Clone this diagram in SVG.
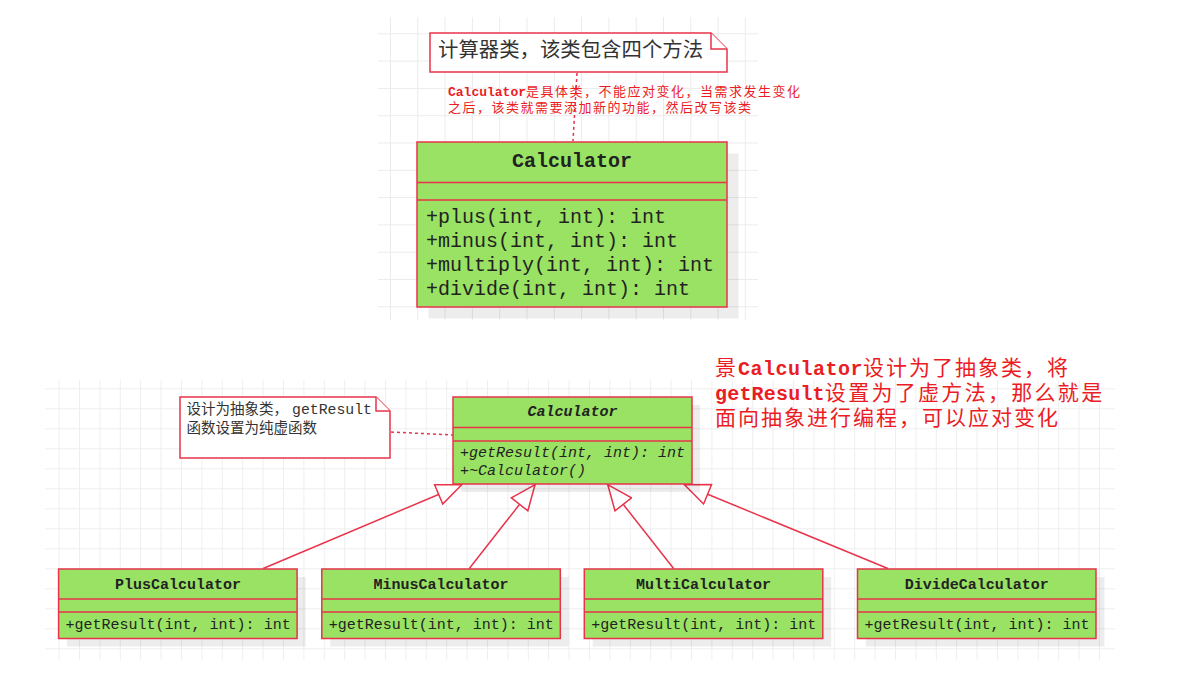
<svg xmlns="http://www.w3.org/2000/svg" width="1191" height="675" viewBox="0 0 1191 675">
<style>
.box{fill:#99e263;stroke:#e8334a;stroke-width:1.5}
.shadow{fill:#000;fill-opacity:0.07}
.div{stroke:#e8334a;stroke-width:1.5}
.note{fill:#fff;stroke:#e8334a;stroke-width:1.5}
.mono{font-family:"Liberation Mono",monospace;fill:#222}
.cjk{font-family:"Noto Sans CJK SC",sans-serif}
.conn{stroke:#e8334a;stroke-width:1.5;fill:none}
.dash{stroke:#e8334a;stroke-width:1.5;fill:none;stroke-dasharray:3,3}
.red{fill:#eb1c24}
</style>
<defs>
<pattern id="g1" x="390" y="33.3" width="27.3" height="27.3" patternUnits="userSpaceOnUse">
<path d="M0 0.5H27.3M0.5 0V27.3" stroke="#ebebeb" stroke-width="1" fill="none"/>
</pattern>
<pattern id="g2" x="58.6" y="388.3" width="20.4" height="20" patternUnits="userSpaceOnUse">
<path d="M0 0.5H20.4M0.5 0V20" stroke="#eeeeee" stroke-width="1" fill="none"/>
</pattern>
<marker id="tri" viewBox="0 0 27 23" refX="26" refY="11.5" markerWidth="27" markerHeight="23" markerUnits="userSpaceOnUse" orient="auto">
<path d="M1,1 L26,11.5 L1,22 Z" fill="#fff" stroke="#e8334a" stroke-width="1.5"/>
</marker>
</defs>
<rect width="1191" height="675" fill="#fff"/>
<rect x="378" y="17" width="380" height="303" fill="url(#g1)"/>
<rect x="45" y="380" width="1070" height="280" fill="url(#g2)"/>

<g id="connectors">
<line class="dash" x1="577" y1="73" x2="573" y2="141"/>
<line class="dash" x1="391" y1="432" x2="453" y2="435"/>
<line class="conn" x1="263.2" y1="568.5" x2="461.7" y2="484.7" marker-end="url(#tri)"/>
<line class="conn" x1="469.3" y1="568.5" x2="535" y2="484.7" marker-end="url(#tri)"/>
<line class="conn" x1="673.6" y1="568.5" x2="607.8" y2="484.7" marker-end="url(#tri)"/>
<line class="conn" x1="887.9" y1="568.5" x2="684.5" y2="484.7" marker-end="url(#tri)"/>
</g>

<g id="note-top">
<path class="note" d="M430,33 H711 L727,49 V72 H430 Z"/>
<path class="note" d="M711,33 V49 H727"/>
<text x="438" y="57" class="cjk" font-size="20.4" fill="#333">计算器类，该类包含四个方法</text>
</g>

<g id="note-top-red">
<text x="448" y="96" class="red"><tspan font-family="Liberation Mono, monospace" font-weight="bold" font-size="13">Calculator</tspan><tspan class="cjk" font-size="13" letter-spacing="1.5">是具体类，不能应对变化，当需求发生变化</tspan></text>
<text x="448" y="112" class="red cjk" font-size="13" letter-spacing="1.5">之后，该类就需要添加新的功能，然后改写该类</text>
</g>

<g id="class-calculator-concrete">
<rect class="shadow" x="428.5" y="153.5" width="310" height="165"/>
<rect class="box" x="417" y="142" width="310" height="165"/>
<line class="div" x1="417" y1="182.5" x2="727" y2="182.5"/>
<line class="div" x1="417" y1="200" x2="727" y2="200"/>
<text x="572" y="167" class="mono" font-size="20" font-weight="bold" text-anchor="middle" fill="#111">Calculator</text>
<text x="426" y="223" class="mono" font-size="20">+plus(int, int): int</text>
<text x="426" y="247" class="mono" font-size="20">+minus(int, int): int</text>
<text x="426" y="271" class="mono" font-size="20">+multiply(int, int): int</text>
<text x="426" y="295" class="mono" font-size="20">+divide(int, int): int</text>
</g>

<g id="note-abstract">
<path class="note" d="M180,397 H376 L390,411 V458 H180 Z"/>
<path class="note" d="M376,397 V411 H390"/>
<text x="186.5" y="414" font-size="14.5" fill="#333"><tspan class="cjk">设计为抽象类，</tspan><tspan font-family="Liberation Mono, monospace" font-size="14.8" dx="4">getResult</tspan></text>
<text x="186.5" y="433" class="cjk" font-size="14.5" fill="#333">函数设置为纯虚函数</text>
</g>

<g id="big-red-text" class="red">
<text x="715" y="374.5"><tspan class="cjk" font-size="21" letter-spacing="2">景</tspan><tspan font-family="Liberation Mono, monospace" font-weight="bold" font-size="20" letter-spacing="0.5">Calculator</tspan><tspan class="cjk" font-size="21" letter-spacing="2">设计为了抽象类，将</tspan></text>
<text x="715" y="399.5"><tspan font-family="Liberation Mono, monospace" font-weight="bold" font-size="20" letter-spacing="0.2">getResult</tspan><tspan class="cjk" font-size="21" letter-spacing="2.3">设置为了虚方法，那么就是</tspan></text>
<text x="715" y="425" class="cjk" font-size="21" letter-spacing="2">面向抽象进行编程，可以应对变化</text>
</g>

<g id="class-calculator-abstract">
<rect class="shadow" x="461" y="405" width="239" height="87"/>
<rect class="box" x="453" y="397" width="239" height="87"/>
<line class="div" x1="453" y1="427.5" x2="692" y2="427.5"/>
<line class="div" x1="453" y1="441" x2="692" y2="441"/>
<text x="572.5" y="416" class="mono" font-size="15" font-weight="bold" font-style="italic" text-anchor="middle" fill="#111">Calculator</text>
<text x="460" y="457" class="mono" font-size="15" font-style="italic">+getResult(int, int): int</text>
<text x="460" y="474.5" class="mono" font-size="15" font-style="italic">+~Calculator()</text>
</g>

<g id="class-plus">
<rect class="shadow" x="67" y="577" width="238.5" height="69.5"/>
<rect class="box" x="58.6" y="569" width="238.5" height="69.5"/>
<line class="div" x1="58.6" y1="599" x2="297.1" y2="599"/>
<line class="div" x1="58.6" y1="612" x2="297.1" y2="612"/>
<text x="177.9" y="588.5" class="mono" font-size="15" font-weight="bold" text-anchor="middle" fill="#111">PlusCalculator</text>
<text x="65.6" y="629" class="mono" font-size="15">+getResult(int, int): int</text>
</g>

<g id="class-minus">
<rect class="shadow" x="330.2" y="577" width="238.5" height="69.5"/>
<rect class="box" x="321.8" y="569" width="238.5" height="69.5"/>
<line class="div" x1="321.8" y1="599" x2="560.3" y2="599"/>
<line class="div" x1="321.8" y1="612" x2="560.3" y2="612"/>
<text x="441" y="588.5" class="mono" font-size="15" font-weight="bold" text-anchor="middle" fill="#111">MinusCalculator</text>
<text x="328.8" y="629" class="mono" font-size="15">+getResult(int, int): int</text>
</g>

<g id="class-multi">
<rect class="shadow" x="592.7" y="577" width="238.5" height="69.5"/>
<rect class="box" x="584.3" y="569" width="238.5" height="69.5"/>
<line class="div" x1="584.3" y1="599" x2="822.8" y2="599"/>
<line class="div" x1="584.3" y1="612" x2="822.8" y2="612"/>
<text x="703.5" y="588.5" class="mono" font-size="15" font-weight="bold" text-anchor="middle" fill="#111">MultiCalculator</text>
<text x="591.3" y="629" class="mono" font-size="15">+getResult(int, int): int</text>
</g>

<g id="class-divide">
<rect class="shadow" x="865.9" y="577" width="238.5" height="69.5"/>
<rect class="box" x="857.5" y="569" width="238.5" height="69.5"/>
<line class="div" x1="857.5" y1="599" x2="1096" y2="599"/>
<line class="div" x1="857.5" y1="612" x2="1096" y2="612"/>
<text x="976.7" y="588.5" class="mono" font-size="15" font-weight="bold" text-anchor="middle" fill="#111">DivideCalculator</text>
<text x="864.5" y="629" class="mono" font-size="15">+getResult(int, int): int</text>
</g>
</svg>
